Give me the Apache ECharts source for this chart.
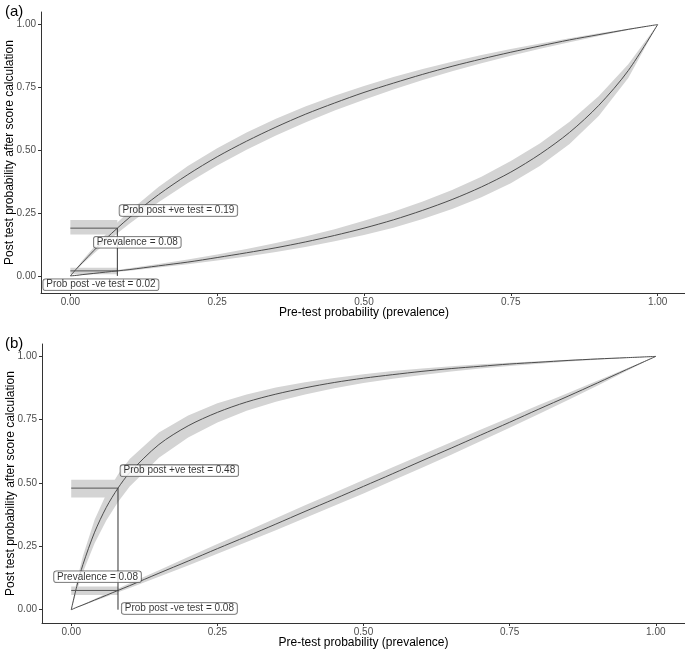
<!DOCTYPE html>
<html><head><meta charset="utf-8">
<script src="https://cdn.jsdelivr.net/npm/echarts@6/dist/echarts.min.js"></script>
<style>html,body{margin:0;padding:0;background:#fff}#c{width:685px;height:652px}</style>
</head><body><div id="c"></div>
<script>
// Pre-test probability grid (x values)
const xs = [0,0.01,0.02,0.04,0.06,0.08,0.10,0.15,0.20,0.25,0.30,0.35,0.40,0.45,0.50,0.55,0.60,0.65,0.70,0.75,0.80,0.85,0.90,0.95,1.00];

// Panel (a)
const aPos   = [0,.027,.052,.101,.147,.190,.231,.323,.403,.474,.536,.592,.643,.688,.730,.767,.802,.834,.863,.890,.915,.939,.960,.981,1];
const aPosLo = [0,.023,.046,.089,.130,.170,.207,.293,.370,.439,.502,.559,.610,.658,.701,.742,.779,.814,.846,.876,.904,.930,.955,.978,1];
const aPosHi = [0,.030,.060,.114,.165,.212,.256,.354,.437,.508,.571,.625,.674,.717,.756,.791,.823,.852,.879,.903,.925,.946,.965,.983,1];
const aNeg   = [0,.002,.005,.010,.015,.020,.025,.040,.055,.073,.092,.112,.135,.161,.190,.223,.261,.304,.354,.413,.485,.571,.679,.817,1];
const aNegLo = [0,.002,.004,.008,.012,.017,.021,.033,.046,.061,.077,.095,.115,.138,.163,.192,.226,.266,.313,.369,.438,.525,.637,.787,1];
const aNegHi = [0,.003,.006,.012,.018,.024,.030,.047,.065,.085,.107,.131,.157,.186,.219,.255,.296,.342,.395,.457,.528,.613,.716,.842,1];
const aMarker = {prev: 0.08, pos: 0.19, posBand: [0.165, 0.222], neg: 0.02, negBand: [0.007, 0.032]};
const aLabels = ['Prob post +ve test = 0.19', 'Prevalence = 0.08', 'Prob post -ve test = 0.02'];
const aLabelAt = [[0.184, 0.26], [0.114, 0.134], [0.052, -0.035]];

// Panel (b)
const bPos   = [0,.097,.178,.306,.404,.480,.541,.652,.726,.779,.820,.851,.876,.897,.914,.928,.941,.952,.961,.970,.977,.984,.990,.995,1];
const bPosLo = [0,.079,.148,.262,.352,.425,.486,.600,.680,.739,.785,.821,.850,.874,.895,.912,.927,.940,.952,.962,.971,.980,.987,.994,1];
const bPosHi = [0,.118,.212,.355,.457,.534,.595,.700,.767,.815,.850,.877,.898,.915,.930,.942,.952,.961,.969,.975,.981,.987,.992,.996,1];
const bNeg   = [0,.010,.019,.038,.057,.076,.095,.144,.192,.241,.289,.338,.388,.437,.487,.537,.588,.638,.689,.740,.792,.843,.895,.948,1];
const bNegLo = [0,.009,.017,.034,.051,.069,.086,.130,.175,.221,.267,.314,.362,.410,.459,.510,.560,.612,.665,.718,.773,.828,.884,.942,1];
const bNegHi = [0,.010,.021,.042,.063,.084,.104,.156,.208,.259,.310,.361,.412,.462,.512,.562,.612,.661,.710,.759,.808,.856,.904,.952,1];
const bMarker = {prev: 0.08, pos: 0.48, posBand: [0.443, 0.513], neg: 0.076, negBand: [0.058, 0.092]};
const bLabels = ['Prob post +ve test = 0.48', 'Prevalence = 0.08', 'Prob post -ve test = 0.08'];
const bLabelAt = [[0.185, 0.549], [0.045, 0.130], [0.185, 0.005]];

const tickValues = [0, 0.25, 0.5, 0.75, 1];
const panelTags = ['(a)', '(b)'];
const xTitle = 'Pre-test probability (prevalence)';
const yTitle = 'Post test probability after score calculation';

const FONT = '"Liberation Sans", Arial, Helvetica, sans-serif';
const BAND = '#d4d4d4';
const LINE = '#4d4d4d';

function pairs(ys) { return xs.map((x, i) => [x, ys[i]]); }

function bandSeries(idx, lo, hi) {
  return {type: 'custom', xAxisIndex: idx, yAxisIndex: idx, silent: true, animation: false, z: 1,
    data: xs.map((x, i) => [x, lo[i], hi[i]]),
    encode: {x: 0, y: [1, 2]},
    renderItem: function (params, api) {
      if (params.dataIndex !== 0) return null;
      const pts = [];
      for (let i = 0; i < xs.length; i++) pts.push(api.coord([xs[i], hi[i]]));
      for (let i = xs.length - 1; i >= 0; i--) pts.push(api.coord([xs[i], lo[i]]));
      return {type: 'polygon', shape: {points: pts}, style: {fill: BAND, stroke: null}};
    }};
}

function panelSeries(idx, pos, posLo, posHi, neg, negLo, negHi, m, labels, labelAt) {
  const s = [];
  const common = {xAxisIndex: idx, yAxisIndex: idx, type: 'line', showSymbol: false, symbol: 'none',
                  smooth: 0.3, silent: true, animation: false};
  s.push(bandSeries(idx, posLo, posHi));
  s.push(bandSeries(idx, negLo, negHi));
  // horizontal CI bands
  s.push({...common, smooth: false, data: [], z: 1,
    markArea: {silent: true, itemStyle: {color: BAND, opacity: 1}, label: {show: false},
      data: [
        [{coord: [0, m.posBand[0]]}, {coord: [m.prev, m.posBand[1]]}],
        [{coord: [0, m.negBand[0]]}, {coord: [m.prev, m.negBand[1]]}]
      ]}});
  // central curves
  s.push({...common, data: pairs(pos), lineStyle: {color: LINE, width: 1}, z: 3});
  s.push({...common, data: pairs(neg), lineStyle: {color: LINE, width: 1}, z: 3});
  // reference lines
  s.push({...common, smooth: false, data: [[0, m.pos], [m.prev, m.pos]], lineStyle: {color: '#555', width: 1}, z: 4});
  s.push({...common, smooth: false, data: [[0, m.neg], [m.prev, m.neg]], lineStyle: {color: '#555', width: 1}, z: 4});
  s.push({...common, smooth: false, data: [[m.prev, 0], [m.prev, m.pos]], lineStyle: {color: '#333', width: 1}, z: 4});
  // labels
  s.push({type: 'scatter', xAxisIndex: idx, yAxisIndex: idx, silent: true, animation: false, z: 6,
    symbolSize: 1, itemStyle: {color: 'transparent'},
    data: labelAt.map((p, i) => ({value: p, name: labels[i]})),
    label: {show: true, position: 'inside', formatter: p => p.name, color: '#000',
      fontFamily: FONT, fontSize: 10, lineHeight: 11,
      backgroundColor: '#fff', borderColor: '#444', borderWidth: 0.8, borderRadius: 2.5,
      padding: [0, 3, 0, 3]}});
  return s;
}

function xAxisCfg(idx) {
  return {type: 'value', gridIndex: idx, min: -0.05, max: 1.05,
    name: xTitle, nameLocation: 'middle', nameGap: 14, nameMoveOverlap: false,
    nameTextStyle: {color: '#000', fontSize: 12, fontFamily: FONT},
    axisLine: {show: true, onZero: false, lineStyle: {color: '#333', width: 1}},
    axisTick: {show: true, length: 3, lineStyle: {color: '#333'}, customValues: tickValues},
    axisLabel: {color: '#4d4d4d', fontSize: 10, fontFamily: FONT, margin: 4,
      customValues: tickValues, formatter: v => v.toFixed(2)},
    splitLine: {show: false}};
}
function yAxisCfg(idx, min, max) {
  return {type: 'value', gridIndex: idx, min: min, max: max,
    name: yTitle, nameLocation: 'middle', nameGap: 25, nameRotate: 90, nameMoveOverlap: false,
    nameTextStyle: {color: '#000', fontSize: 12, fontFamily: FONT},
    axisLine: {show: true, onZero: false, lineStyle: {color: '#333', width: 1}},
    axisTick: {show: true, length: 3, lineStyle: {color: '#333'}, customValues: tickValues},
    axisLabel: {color: '#4d4d4d', fontSize: 10, fontFamily: FONT, margin: 5,
      customValues: tickValues, formatter: v => v.toFixed(2)},
    splitLine: {show: false}};
}

const chart = echarts.init(document.getElementById('c'));
chart.setOption({
  animation: false,
  backgroundColor: '#fff',
  title: [
    {text: panelTags[0], left: 0, top: -1, textStyle: {fontSize: 15, fontWeight: 'normal', color: '#000', fontFamily: FONT}},
    {text: panelTags[1], left: 0, top: 331, textStyle: {fontSize: 15, fontWeight: 'normal', color: '#000', fontFamily: FONT}}
  ],
  grid: [
    {left: 41, top: 12, width: 646, height: 281, containLabel: false, outerBoundsMode: 'none'},
    {left: 42, top: 344, width: 643, height: 279, containLabel: false, outerBoundsMode: 'none'}
  ],
  xAxis: [xAxisCfg(0), xAxisCfg(1)],
  yAxis: [yAxisCfg(0, -0.068, 1.05), yAxisCfg(1, -0.0525, 1.049)],
  series: [
    ...panelSeries(0, aPos, aPosLo, aPosHi, aNeg, aNegLo, aNegHi, aMarker, aLabels, aLabelAt),
    ...panelSeries(1, bPos, bPosLo, bPosHi, bNeg, bNegLo, bNegHi, bMarker, bLabels, bLabelAt)
  ]
});
</script>
</body></html>
